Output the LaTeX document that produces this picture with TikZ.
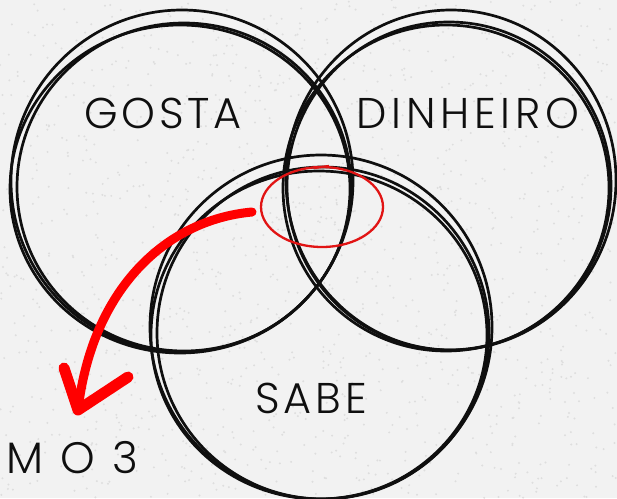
\documentclass[tikz,border=0pt]{standalone}
\usepackage{fontspec}
\setmainfont{Poppins}[UprightFont={* Light},LetterSpace=9]
\definecolor{bgcol}{RGB}{242,242,242}
\definecolor{speck}{RGB}{222,222,222}
\definecolor{ink}{RGB}{15,15,15}
\definecolor{mark}{RGB}{255,0,0}
\definecolor{ringred}{RGB}{225,20,20}
\begin{document}
\begin{tikzpicture}[x=1pt,y=-1pt,
  ring/.style={draw=ink,line width=2.7pt},
  lbl/.style={font=\fontsize{43}{43}\selectfont,text=ink,inner sep=0pt},
  lblsmall/.style={font=\fontsize{44}{44}\selectfont\addfontfeatures{LetterSpace=12},text=ink,inner sep=0pt},
  redstroke/.style={draw=mark,line cap=round,line join=round}]
\useasboundingbox (0,0) rectangle (617,498);
\fill[bgcol] (0,0) rectangle (617,498);
\pgfmathsetseed{7}
\foreach \i in {1,...,1400}{
  \pgfmathsetmacro{\px}{rnd*617}
  \pgfmathsetmacro{\py}{rnd*498}
  \fill[speck] (\px,\py) circle [radius=1.1pt];
}
% left circle (GOSTA)
\draw[ring] (182,181) ellipse [x radius=171pt, y radius=171pt];
\draw[ring] (184,187) ellipse [x radius=167pt, y radius=164pt];
\draw[ring] (180,189) ellipse [x radius=170pt, y radius=164pt];
% right circle (DINHEIRO)
\draw[ring] (451,180) ellipse [x radius=165pt, y radius=170pt];
\draw[ring] (449,186) ellipse [x radius=162pt, y radius=164pt];
\draw[ring] (446,188) ellipse [x radius=163pt, y radius=163pt];
% bottom circle (SABE)
\draw[ring] (321,327) ellipse [x radius=171pt, y radius=172pt];
\draw[ring] (323,333) ellipse [x radius=166pt, y radius=166pt];
\draw[ring] (319,335) ellipse [x radius=168pt, y radius=164pt];
% red ellipse on the centre
\coordinate (centre) at (322,207);
\draw[ringred,line width=2.3pt] (centre) ellipse [x radius=61pt, y radius=40pt];
\draw[ringred,line width=2.3pt] (314,168) -- (329,166);
% labels
\node[lbl] (gosta) at (163,113) {GOSTA};
\node[lbl,font=\fontsize{43}{43}\selectfont\addfontfeatures{LetterSpace=11}] (dinheiro) at (468,113) {DINHEIRO};
\node[lbl] (sabe) at (311,398) {SABE};
\node[lblsmall,anchor=west] (mo3) at (6,458) {M O 3};
% red arrow
\coordinate (astart) at (252,212);
\coordinate (atip) at (78,410);
\draw[redstroke,line width=9pt] (astart) .. controls (165,220) and (92,290) .. (atip);
\draw[redstroke,line width=11pt] (64,368) -- (atip) -- (128,377);
\end{tikzpicture}
\end{document}
